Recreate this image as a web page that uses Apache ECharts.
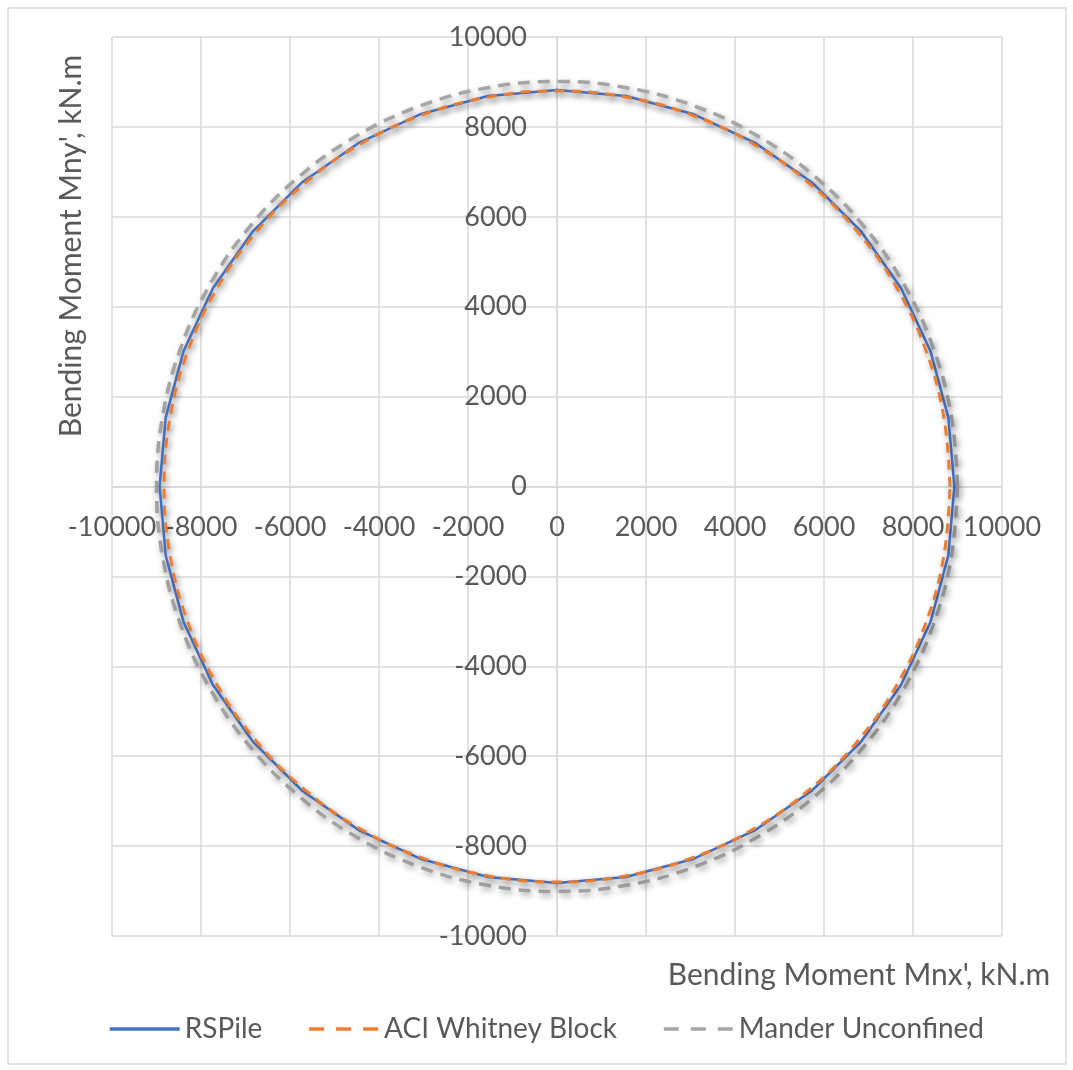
<!DOCTYPE html>
<html>
<head>
<meta charset="utf-8">
<script src="https://cdn.jsdelivr.net/npm/echarts@6/dist/echarts.min.js"></script>
<style>
  html, body { margin: 0; padding: 0; background: #fff; }
  #chart { width: 1073px; height: 1070px; }
</style>
</head>
<body>
<div id="chart"></div>
<script>
// Biaxial moment interaction (Mnx', Mny') in kN.m
const rspile = [
  [8930, 0], [8794, 1531], [8392, 3016], [7733, 4410], [6840, 5669], [5740, 6756],
  [4465, 7638], [3054, 8288], [1550, 8686], [0, 8820], [-1550, 8686], [-3054, 8288],
  [-4465, 7638], [-5740, 6756], [-6840, 5669], [-7733, 4410], [-8392, 3016], [-8794, 1531],
  [-8930, 0], [-8794, -1531], [-8392, -3016], [-7733, -4410], [-6840, -5669], [-5740, -6756],
  [-4465, -7638], [-3054, -8288], [-1550, -8686], [0, -8820], [1550, -8686], [3054, -8288],
  [4465, -7638], [5740, -6756], [6840, -5669], [7733, -4410], [8392, -3016], [8794, -1531],
  [8930, 0]
];

const aciWhitney = [
  [8830, 0], [8696, 1528], [8298, 3010], [7647, 4400], [6764, 5657], [5676, 6741],
  [4415, 7621], [3020, 8269], [1533, 8666], [0, 8800], [-1533, 8666], [-3020, 8269],
  [-4415, 7621], [-5676, 6741], [-6764, 5657], [-7647, 4400], [-8298, 3010], [-8696, 1528],
  [-8830, 0], [-8696, -1528], [-8298, -3010], [-7647, -4400], [-6764, -5657], [-5676, -6741],
  [-4415, -7621], [-3020, -8269], [-1533, -8666], [0, -8800], [1533, -8666], [3020, -8269],
  [4415, -7621], [5676, -6741], [6764, -5657], [7647, -4400], [8298, -3010], [8696, -1528],
  [8830, 0]
];

const manderUnconfined = [
  [9000, 0], [8863, 1565], [8457, 3081], [7794, 4505], [6894, 5792], [5785, 6902],
  [4500, 7803], [3078, 8467], [1562, 8873], [0, 9010], [-1562, 8873], [-3078, 8467],
  [-4500, 7803], [-5785, 6902], [-6894, 5792], [-7794, 4505], [-8457, 3081], [-8863, 1565],
  [-9000, 0], [-8863, -1565], [-8457, -3081], [-7794, -4505], [-6894, -5792], [-5785, -6902],
  [-4500, -7803], [-3078, -8467], [-1562, -8873], [0, -9010], [1562, -8873], [3078, -8467],
  [4500, -7803], [5785, -6902], [6894, -5792], [7794, -4505], [8457, -3081], [8863, -1565],
  [9000, 0]
];

const seriesNames = ['RSPile', 'ACI Whitney Block', 'Mander Unconfined'];
const xTitle = "Bending Moment Mnx', kN.m";
const yTitle = "Bending Moment Mny', kN.m";

const FONT = 'Lato, "Open Sans", sans-serif';
const TEXT = '#595959';
const GRID = '#d9d9d9';
const shadow = { shadowColor: 'rgba(0,0,0,0.4)', shadowBlur: 6, shadowOffsetX: 2, shadowOffsetY: 3 };
const noShadow = { shadowColor: 'rgba(0,0,0,0)', shadowBlur: 0, shadowOffsetX: 0, shadowOffsetY: 0 };

// plot area in px
const G = { left: 112, right: 71, top: 37, bottom: 134 };
const plotW = 1073 - G.left - G.right;
const plotH = 1070 - G.top - G.bottom;

const chart = echarts.init(document.getElementById('chart'));

const axisCommon = {
  type: 'value', min: -10000, max: 10000, interval: 2000,
  axisTick: { show: false },
  splitLine: { lineStyle: { color: GRID, width: 1.5 } },
  axisLabel: { color: TEXT, fontFamily: FONT, fontSize: 27, formatter: v => String(v) }
};

chart.setOption({
  animation: false,
  backgroundColor: '#fff',
  grid: Object.assign({ containLabel: false, outerBoundsMode: 'none' }, G),
  // axes cross at the origin: shift them into the middle of the plot
  xAxis: Object.assign({}, axisCommon, {
    position: 'bottom', offset: -plotH / 2,
    axisLine: { onZero: false, lineStyle: { color: GRID, width: 1.5 } },
    axisLabel: Object.assign({}, axisCommon.axisLabel, { margin: 27 })
  }),
  yAxis: Object.assign({}, axisCommon, {
    position: 'left', offset: -plotW / 2,
    axisLine: { onZero: false, lineStyle: { color: GRID, width: 1.5 } },
    axisLabel: Object.assign({}, axisCommon.axisLabel, { margin: 30 })
  }),
  legend: {
    bottom: 22, left: 103,
    itemWidth: 70, itemHeight: 14, itemGap: 45,
    textStyle: { color: TEXT, fontFamily: FONT, fontSize: 28 },
    itemStyle: { opacity: 0 },
    lineStyle: noShadow,
    data: [
      { name: seriesNames[0], lineStyle: Object.assign({ width: 3.5, type: 'solid' }, noShadow) },
      { name: seriesNames[1], lineStyle: Object.assign({ width: 3.5, type: [15, 12] }, noShadow) },
      { name: seriesNames[2], lineStyle: Object.assign({ width: 3.5, type: [15, 12] }, noShadow) }
    ]
  },
  series: [
    {
      name: seriesNames[0], type: 'line', data: rspile, symbol: 'none', z: 3,
      lineStyle: Object.assign({ color: '#4472C4', width: 2.5, type: 'solid' }, shadow),
      itemStyle: { color: '#4472C4' }
    },
    {
      name: seriesNames[1], type: 'line', data: aciWhitney, symbol: 'none', z: 4, smooth: 0.4,
      lineStyle: Object.assign({ color: '#ED7D31', width: 3, type: [10, 7] }, shadow),
      itemStyle: { color: '#ED7D31' }
    },
    {
      name: seriesNames[2], type: 'line', data: manderUnconfined, symbol: 'none', z: 2, smooth: 0.4,
      lineStyle: Object.assign({ color: '#A5A5A5', width: 3.5, type: [12, 8] }, shadow),
      itemStyle: { color: '#A5A5A5' }
    }
  ],
  graphic: [
    {
      type: 'rect', silent: true, z: -1,
      shape: { x: 8, y: 8, width: 1058, height: 1056 },
      style: { fill: 'none', stroke: GRID, lineWidth: 1.5 }
    },
    {
      type: 'text', x: 859, y: 975,
      style: { text: xTitle, fill: TEXT, font: '30px ' + FONT, align: 'center', verticalAlign: 'middle' }
    },
    {
      type: 'text', x: 71, y: 246, rotation: Math.PI / 2,
      style: { text: yTitle, fill: TEXT, font: '30px ' + FONT, align: 'center', verticalAlign: 'middle' }
    }
  ]
});
</script>
</body>
</html>
